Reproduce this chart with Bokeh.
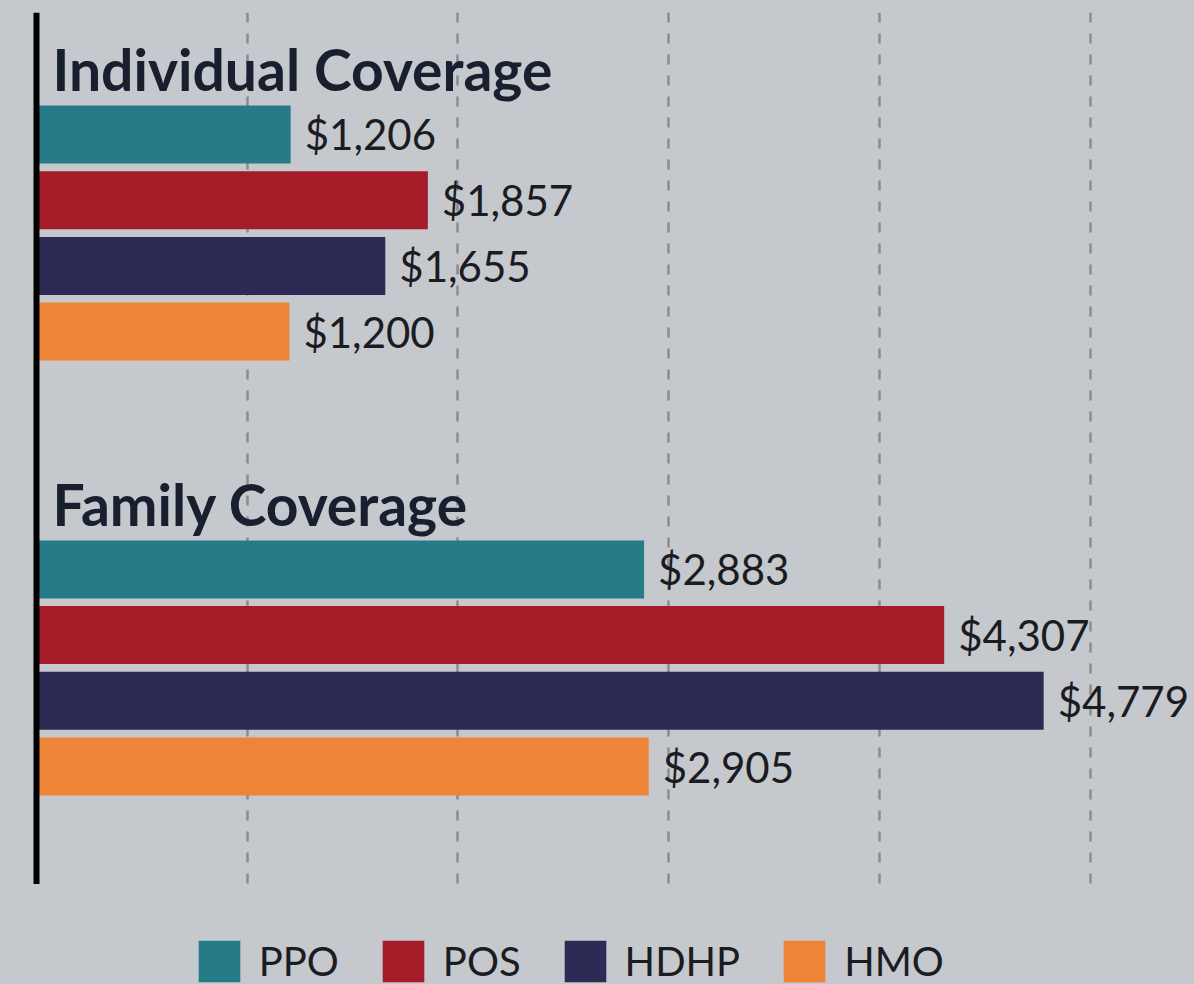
from bokeh.plotting import figure
from bokeh.models import Range1d, FixedTicker, Span, ColumnDataSource, Legend, LegendItem
from bokeh.layouts import column
from bokeh.embed import file_html
from bokeh.resources import INLINE

groups = ["Individual Coverage", "Family Coverage"]
plans = ["PPO", "POS", "HDHP", "HMO"]
individual = [1206, 1857, 1655, 1200]
family = [2883, 4307, 4779, 2905]
colors = ["#277a87", "#a51b27", "#2d2a55", "#ee8438"]
grid_ticks = [1000, 2000, 3000, 4000, 5000]

BG = "#c5c8cc"
group_base = [0.0, 6.62]
series_values = [individual, family]

p = figure(width=1194, height=884, x_range=Range1d(-170.8, 5494.7),
           y_range=Range1d(11.416, -1.857), toolbar_location=None,
           output_backend="svg", min_border=0, min_border_top=12,
           styles={"background-color": BG})
p.background_fill_color = BG
p.border_fill_color = BG
p.outline_line_color = None
p.xaxis.visible = False
p.yaxis.visible = False
p.ygrid.visible = False
p.xgrid.ticker = FixedTicker(ticks=grid_ticks)
p.xgrid.grid_line_color = "#8a8c90"
p.xgrid.grid_line_width = 2.5
p.xgrid.grid_line_dash = "10 11"

sources = []
lab_x, lab_y, lab_t = [], [], []
for i, plan in enumerate(plans):
    ys = [group_base[g] + i for g in range(len(groups))]
    vals = [series_values[g][i] for g in range(len(groups))]
    src = ColumnDataSource(dict(y=ys, right=vals))
    sources.append(src)
    p.hbar(y="y", right="right", left=0, height=0.883, source=src,
           fill_color=colors[i], line_color=None)
    lab_x += vals
    lab_y += ys
    lab_t += ["${:,}".format(v) for v in vals]

lab_src = ColumnDataSource(dict(x=lab_x, y=lab_y, t=lab_t))
p.text(x="x", y="y", text="t", source=lab_src, x_offset=14,
       text_baseline="middle", text_align="left", text_font_size="42px",
       text_color="#1b1b22", text_font={"value": "Lato"})

title_src = ColumnDataSource(dict(x=[0, 0], y=[b - 1.0 for b in group_base], t=groups))
p.text(x="x", y="y", text="t", source=title_src, x_offset=16,
       text_baseline="alphabetic", text_align="left", text_font_size="57px",
       text_font_style="bold", text_color="#18202f",
       text_font={"value": "Lato"})

p.add_layout(Span(location=0, dimension="height", line_color="black",
                  line_width=6, level="overlay"))

# legend panel: renderers share the bar sources, drawn outside its visible range
p2 = figure(width=1194, height=100, x_range=Range1d(-3, -2), y_range=Range1d(-3, -2),
            toolbar_location=None, output_backend="svg", min_border=0,
            styles={"background-color": BG})
p2.background_fill_color = BG
p2.border_fill_color = BG
p2.outline_line_color = None
p2.axis.visible = False
p2.grid.visible = False
items = []
for i, plan in enumerate(plans):
    r = p2.hbar(y="y", right="right", left=0, height=0.883, source=sources[i],
                fill_color=colors[i], line_color=None)
    items.append(LegendItem(label=plan, renderers=[r]))
legend = Legend(items=items, orientation="horizontal", location=(192.8, -3),
                glyph_width=52, glyph_height=52, label_standoff=14, spacing=38,
                padding=0, margin=0, border_line_color=None,
                background_fill_alpha=0, label_text_font="Lato",
                label_text_font_size="40px", label_text_color="#1b1b22")
p2.add_layout(legend)

layout = column(p, p2, spacing=0, styles={"background-color": BG})
open("out.html", "w").write(file_html(layout, INLINE))
